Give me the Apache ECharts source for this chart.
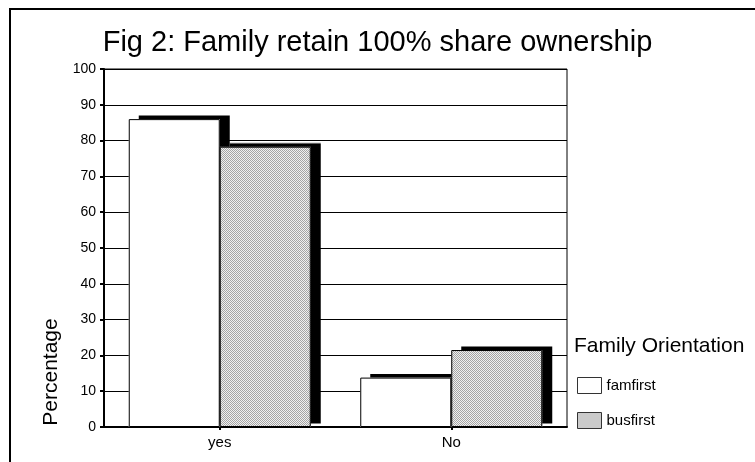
<!DOCTYPE html>
<html>
<head>
<meta charset="utf-8">
<script src="https://cdn.jsdelivr.net/npm/echarts@6/dist/echarts.min.js"></script>
<style>
html,body{margin:0;padding:0;background:#fff;}
#chart{width:755px;height:462px;}
</style>
</head>
<body>
<div id="chart"></div>
<script>
const categories = ['yes', 'No'];
const famfirst = [86.0, 13.8];
const busfirst = [78.3, 21.5];
const seriesNames = ['famfirst', 'busfirst'];
const titleText = 'Fig 2: Family retain 100% share ownership';
const legendTitle = 'Family Orientation';
const yAxisTitle = 'Percentage';

const FONT = "'Liberation Sans', Arial, sans-serif";

function makePattern(a, b) {
  const c = document.createElement('canvas');
  c.width = 2; c.height = 2;
  const ctx = c.getContext('2d');
  ctx.fillStyle = b; ctx.fillRect(0, 0, 2, 2);
  ctx.fillStyle = a; ctx.fillRect(0, 0, 1, 1); ctx.fillRect(1, 1, 1, 1);
  return { image: c, repeat: 'repeat' };
}
const busPattern = makePattern('#a4a4a4', '#f0f0f0');

const chart = echarts.init(document.getElementById('chart'), null, { renderer: 'canvas' });
const shadow = { shadowColor: '#000', shadowBlur: 0, shadowOffsetX: 10, shadowOffsetY: -3.5, borderWidth: 0 };
const outline = { color: 'rgba(0,0,0,0)', borderColor: '#000', borderWidth: 1 };

const xAxisBase = {
  type: 'category', data: categories,
  axisLine: { lineStyle: { color: '#000', width: 2 } },
  axisTick: { show: true, alignWithLabel: true, length: 3, lineStyle: { color: '#000', width: 2 } },
  axisLabel: { fontFamily: FONT, fontSize: 15, color: '#000', margin: 8 }
};

chart.setOption({
  animation: false,
  backgroundColor: '#fff',
  title: [
    { text: titleText, left: 'center', top: 28, padding: 0,
      textStyle: { fontFamily: FONT, fontSize: 29, fontWeight: 'normal', color: '#000' } },
    { text: legendTitle, left: 574, top: 336, padding: 0,
      textStyle: { fontFamily: FONT, fontSize: 21, fontWeight: 'normal', color: '#000' } }
  ],
  legend: {
    orient: 'vertical', left: 577, top: 377, padding: 0,
    itemWidth: 24, itemHeight: 16, itemGap: 18, icon: 'rect',
    textStyle: { fontFamily: FONT, fontSize: 15, color: '#000', lineHeight: 16 },
    itemStyle: { shadowColor: 'transparent', shadowOffsetX: 0, shadowOffsetY: 0, borderColor: '#333', borderWidth: 1 },
    data: seriesNames
  },
  grid: { left: 104, top: 69, width: 463, height: 358, show: true, borderColor: '#000', borderWidth: 1, containLabel: false },
  xAxis: [
    xAxisBase,
    { type: 'category', data: categories, show: false }
  ],
  yAxis: {
    type: 'value', min: 0, max: 100, interval: 10,
    axisLine: { show: true, lineStyle: { color: '#000', width: 2 } },
    axisTick: { show: true, length: 4, lineStyle: { color: '#000', width: 2 } },
    axisLabel: { fontFamily: FONT, fontSize: 14, color: '#000', margin: 8 },
    splitLine: { show: true, lineStyle: { color: '#000', width: 1 } }
  },
  graphic: [
    { type: 'rect', silent: true, z: 100,
      shape: { x: 10, y: 9, width: 800, height: 500 },
      style: { fill: 'none', stroke: '#000', lineWidth: 2 } },
    { type: 'text', silent: true, x: 51, y: 372, rotation: Math.PI / 2,
      style: { text: yAxisTitle, fontFamily: FONT, fontSize: 21, fill: '#000', align: 'center', verticalAlign: 'middle' } }
  ],
  series: [
    { name: seriesNames[0], type: 'bar', xAxisIndex: 0, data: famfirst, barWidth: 91, barGap: '0%',
      itemStyle: Object.assign({ color: '#fff' }, shadow) },
    { name: seriesNames[1], type: 'bar', xAxisIndex: 0, data: busfirst, barWidth: 91, barGap: '0%',
      itemStyle: Object.assign({ color: busPattern }, shadow) },
    { name: seriesNames[0], type: 'bar', xAxisIndex: 1, data: famfirst, barWidth: 91, barGap: '0%',
      itemStyle: outline },
    { name: seriesNames[1], type: 'bar', xAxisIndex: 1, data: busfirst, barWidth: 91, barGap: '0%',
      itemStyle: outline }
  ]
});
</script>
</body>
</html>
